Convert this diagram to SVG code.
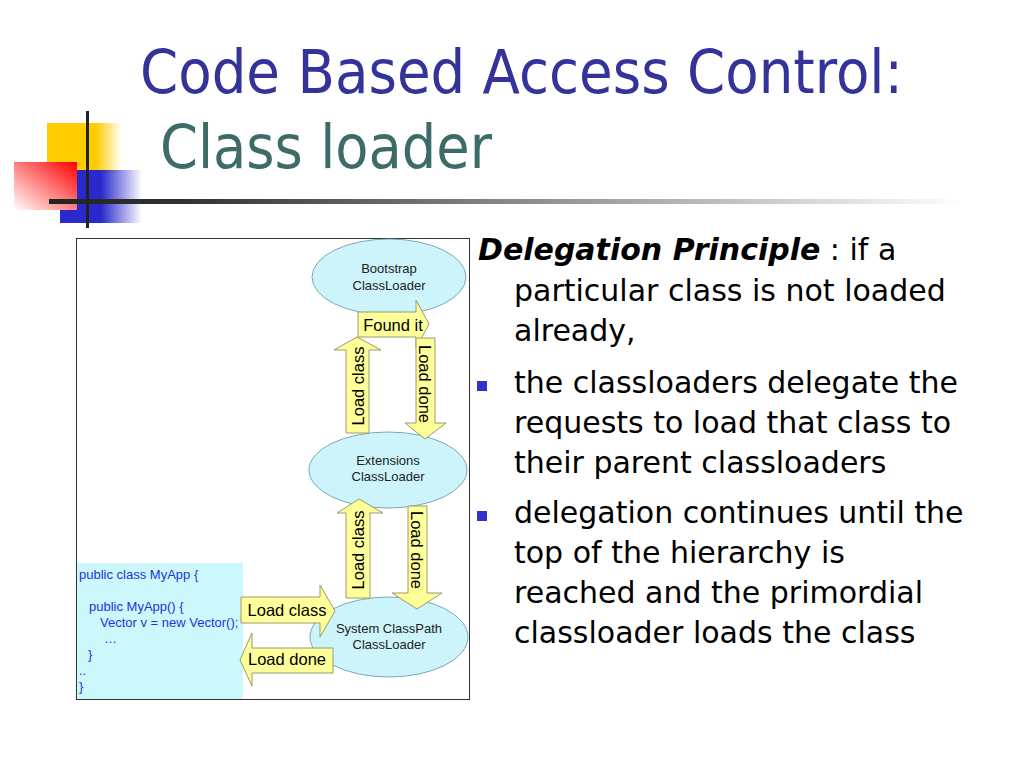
<svg xmlns="http://www.w3.org/2000/svg" width="1024" height="768" viewBox="0 0 1024 768">
<defs>
<linearGradient id="gYel" x1="0" y1="0" x2="1" y2="0"><stop offset="0" stop-color="#FFCC00"/><stop offset="0.65" stop-color="#FFCC00"/><stop offset="1" stop-color="#FFCC00" stop-opacity="0"/></linearGradient>
<linearGradient id="gBlue" x1="0" y1="0" x2="1" y2="0"><stop offset="0" stop-color="#2A2ACC"/><stop offset="0.5" stop-color="#2A2ACC"/><stop offset="1" stop-color="#2A2ACC" stop-opacity="0"/></linearGradient>
<linearGradient id="gRed" x1="0" y1="1" x2="1" y2="0"><stop offset="0" stop-color="#FFFFFF"/><stop offset="1" stop-color="#FF0000"/></linearGradient>
<linearGradient id="gLine" x1="0" y1="0" x2="1" y2="0"><stop offset="0" stop-color="#222"/><stop offset="0.15" stop-color="#333"/><stop offset="1" stop-color="#FFFFFF"/></linearGradient>
<style>
.title{font-family:"DejaVu Sans Condensed","DejaVu Sans",sans-serif;font-size:60px}
.body{font-family:"DejaVu Sans",sans-serif;font-size:30px;fill:#000}
.node{fill:#CCF4FA;stroke:#7AA8B8;stroke-width:1}
.ntext{font-family:"Liberation Sans",Arial,sans-serif;font-size:13px;fill:#222;text-anchor:middle}
.arrow{fill:#FFFF99;stroke:#9A9A70;stroke-width:1}
.atext{font-family:"Liberation Sans",Arial,sans-serif;font-size:16.5px;fill:#000;text-anchor:middle;dominant-baseline:central}
.code{font-family:"Liberation Sans",Arial,sans-serif;font-size:13px;fill:#2233DD}
.bullet{fill:#3333CC}
</style>
</defs>
<rect width="1024" height="768" fill="#FFFFFF"/>

<!-- decoration -->
<rect x="47" y="123" width="75" height="50" fill="url(#gYel)"/>
<rect x="60" y="170" width="82" height="53" fill="url(#gBlue)"/>
<rect x="14" y="162" width="63" height="48" fill="url(#gRed)"/>
<rect x="49" y="199" width="915" height="5" fill="url(#gLine)"/>
<rect x="86" y="111" width="3" height="117" fill="#222"/>

<!-- title -->
<text class="title" x="140" y="93" fill="#333399" textLength="763" lengthAdjust="spacingAndGlyphs">Code Based Access Control:</text>
<text class="title" x="160" y="168" fill="#3D6B68" textLength="332" lengthAdjust="spacingAndGlyphs">Class loader</text>

<!-- body text -->
<g id="bodytext">
<text class="body" x="478" y="260"><tspan font-weight="bold" font-style="italic">Delegation Principle</tspan> : if a</text>
<text class="body" x="514" y="301">particular class is not loaded</text>
<text class="body" x="514" y="341">already,</text>
<rect class="bullet" x="477" y="381" width="10" height="10"/>
<text class="body" x="514" y="393">the classloaders delegate the</text>
<text class="body" x="514" y="433">requests to load that class to</text>
<text class="body" x="514" y="473">their parent classloaders</text>
<rect class="bullet" x="477" y="511" width="10" height="10"/>
<text class="body" x="514" y="523">delegation continues until the</text>
<text class="body" x="514" y="563">top of the hierarchy is</text>
<text class="body" x="514" y="603">reached and the primordial</text>
<text class="body" x="514" y="643">classloader loads the class</text>
</g>

<!-- diagram frame -->
<rect x="76.5" y="238.5" width="393" height="461" fill="#FFFFFF" stroke="#333" stroke-width="1"/>

<!-- code box -->
<g id="code">
<rect x="77" y="563" width="166" height="136" fill="#CCF8FC"/>
<text class="code" x="79" y="579">public class MyApp {</text>
<text class="code" x="89" y="611">public MyApp() {</text>
<text class="code" x="100" y="627">Vector v = new Vector();</text>
<text class="code" x="104" y="643">…</text>
<text class="code" x="88" y="659">}</text>
<text class="code" x="79" y="675">..</text>
<text class="code" x="79" y="691">}</text>
</g>

<!-- nodes -->
<g id="bootstrap">
<ellipse class="node" cx="389" cy="277" rx="77" ry="38"/>
<text class="ntext" x="389" y="273">Bootstrap</text>
<text class="ntext" x="389" y="290">ClassLoader</text>
</g>
<g id="extensions">
<ellipse class="node" cx="388" cy="470" rx="79" ry="38"/>
<text class="ntext" x="388" y="465">Extensions</text>
<text class="ntext" x="388" y="481">ClassLoader</text>
</g>
<g id="system">
<ellipse class="node" cx="389" cy="637" rx="79" ry="40"/>
<text class="ntext" x="389" y="633">System ClassPath</text>
<text class="ntext" x="389" y="649">ClassLoader</text>
</g>

<!-- connectors -->
<g id="connectors">
<!-- Found it (right) -->
<path class="arrow" d="M358,312 H416 V300 L429,324 L416,348 V337 H358 Z"/>
<text class="atext" x="393" y="325">Found it</text>
<!-- top Load class (up) -->
<path class="arrow" d="M346,433 V350 H334 L357,337 L381,350 H369 V433 Z"/>
<text class="atext" transform="translate(358,386) rotate(-90)">Load class</text>
<!-- top Load done (down) -->
<path class="arrow" d="M416,338 H435 V423 H446 L425,439 L405,423 H416 Z"/>
<text class="atext" transform="translate(425,384) rotate(90)">Load done</text>
<!-- bottom Load class (up) -->
<path class="arrow" d="M346,598 V513 H337 L359,499 L383,513 H370 V598 Z"/>
<text class="atext" transform="translate(358,550) rotate(-90)">Load class</text>
<!-- bottom Load done (down) -->
<path class="arrow" d="M408,506 H427 V593 H442 L417,609 L392,593 H408 Z"/>
<text class="atext" transform="translate(417,550) rotate(90)">Load done</text>
<!-- horizontal Load class (right) -->
<path class="arrow" d="M241,597 H320 V585 L335,611 L320,637 V623 H241 Z"/>
<text class="atext" x="287" y="610">Load class</text>
<!-- horizontal Load done (left) -->
<path class="arrow" d="M333,648 H252 V633 L240,660 L252,686 V673 H333 Z"/>
<text class="atext" x="287" y="659">Load done</text>
</g>
</svg>
